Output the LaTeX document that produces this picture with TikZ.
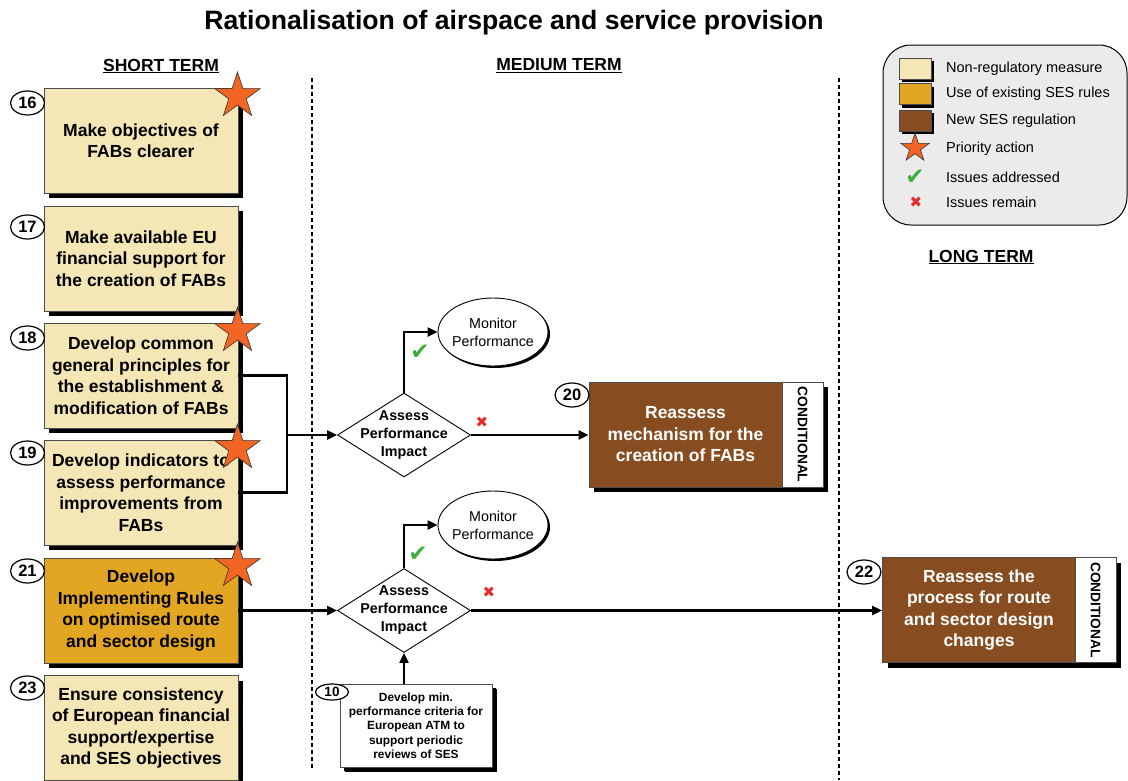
\documentclass[tikz,border=0pt]{standalone}
\usepackage{fontspec}
\setmainfont{Liberation Sans}
\newfontfamily\symfont{DejaVu Sans}
\usetikzlibrary{shapes.geometric,shadows,arrows.meta}

\definecolor{cream}{HTML}{F5E6B5}
\definecolor{sesgold}{HTML}{E3A623}
\definecolor{sesbrown}{HTML}{874D20}
\definecolor{starorange}{HTML}{F26522}
\definecolor{legendbg}{HTML}{EBEBEB}
\definecolor{okgreen}{HTML}{3DAE3A}
\definecolor{nored}{HTML}{E52A2A}

\newcommand{\setfs}[2]{\fontsize{#1}{#2}\selectfont}

\tikzset{
  boxshadow/.style={drop shadow={shadow xshift=5pt,shadow yshift=-5pt,fill=black,opacity=1}},
  actbox/.style={draw=black!70, line width=0.8, minimum width=194, minimum height=105,
    inner sep=0, align=center, font=\setfs{17.5}{21.5}\bfseries, boxshadow},
  nonreg/.style={actbox, fill=cream},
  sesrule/.style={actbox, fill=sesgold},
  newreg/.style={actbox, fill=sesbrown, text=white, minimum width=193},
  condstrip/.style={draw=black!70, line width=0.8, fill=white, minimum width=41,
    minimum height=105, inner sep=0, boxshadow},
  condtext/.style={rotate=-90, font=\setfs{13.8}{13.8}\bfseries},
  numtag/.style={ellipse, draw, line width=1.2, fill=white, minimum width=34,
    minimum height=24, inner sep=0, font=\setfs{16.5}{16.5}\bfseries},
  prio/.style={star, star points=5, star point ratio=2.618, minimum size=48,
    inner sep=0, fill=starorange, draw=black!80, line width=0.6},
  conn/.style={line width=2.2, black},
  arr/.style={conn, -{Triangle[length=10pt,width=9pt]}},
  decision/.style={diamond, draw, line width=0.9, fill=white, minimum width=133,
    minimum height=84, inner sep=0, aspect=1.58},
  decisiontext/.style={align=center, font=\setfs{14.3}{18}\bfseries},
  monitor/.style={ellipse, draw, line width=0.9, fill=white, minimum width=110,
    minimum height=68, inner sep=0,
    drop shadow={shadow xshift=2pt,shadow yshift=-2pt,fill=black,opacity=1}},
  monitortext/.style={align=center, font=\setfs{14.3}{18}},
  termlabel/.style={font=\setfs{17.5}{17.5}\bfseries},
  divider/.style={line width=1.2, dash pattern=on 4pt off 3pt},
  swatch/.style={draw=black!70, line width=0.6, minimum width=32, minimum height=21,
    inner sep=0, drop shadow={shadow xshift=3pt,shadow yshift=-3pt,fill=black,opacity=1}},
  legendtext/.style={anchor=west, inner sep=0, font=\setfs{14.5}{14.5}},
  okmark/.style={text=okgreen, font=\symfont\setfs{23}{23}},
  nomark/.style={text=nored, font=\symfont\setfs{15}{15}},
}

\begin{document}
\begin{tikzpicture}[x=1pt,y=-1pt]
\useasboundingbox (0,0) rectangle (1128,780);

% title and term headings
\node[font=\setfs{26.6}{26.6}\bfseries] (title) at (514,23) {Rationalisation of airspace and service provision};
\node[termlabel] (hshort) at (161,66) {\underline{SHORT TERM}};
\node[termlabel] (hmedium) at (559,66) {\underline{MEDIUM TERM}};
\node[termlabel] (hlong) at (981,257) {\underline{LONG TERM}};

% term dividers
\coordinate (dv1top) at (312,78);
\coordinate (dv1bot) at (312,770);
\coordinate (dv2top) at (839,78);
\coordinate (dv2bot) at (839,780);
\draw[divider] (dv1top) -- (dv1bot);
\draw[divider] (dv2top) -- (dv2bot);

% legend
\draw[fill=legendbg, line width=1] (883,45) [rounded corners=28] rectangle (1127,225);
\node[swatch, fill=cream] (lg1) at (915,68.5) {};
\node[swatch, fill=sesgold] (lg2) at (915,94) {};
\node[swatch, fill=sesbrown] (lg3) at (915,120.5) {};
\node[prio, minimum size=30] (lg4) at (915,148) {};
\node[okmark] (lg5) at (915,177) {✔};
\node[nomark] (lg6) at (916,202) {✖};
\node[legendtext] (lt1) at (946,69) {Non-regulatory measure};
\node[legendtext] (lt2) at (946,94) {Use of existing SES rules};
\node[legendtext] (lt3) at (946,121) {New SES regulation};
\node[legendtext] (lt4) at (946,149) {Priority action};
\node[legendtext] (lt5) at (946,177) {Issues addressed};
\node[legendtext] (lt6) at (946,202) {Issues remain};

% short term actions
\node[nonreg] (b16) at (141,140.5) {Make objectives of\\FABs clearer};
\node[nonreg] (b17) at (141,258.5) {Make available EU\\financial support for\\the creation of FABs};
\node[nonreg] (b18) at (141,375.5) {Develop common\\general principles for\\the establishment \&\\modification of FABs};
\node[nonreg] (b19) at (141,492.5) {Develop indicators to\\assess performance\\improvements from\\FABs};
\node[sesrule] (b21) at (141,610.5) {Develop\\Implementing Rules\\on optimised route\\and sector design};
\node[nonreg] (b23) at (141,728) {Ensure consistency\\of European financial\\support/expertise\\and SES objectives};

% medium term: assessment of 18/19
\node[decision] (d1) at (404,435) {};
\node[decisiontext] (d1t) at (d1) {Assess\\Performance\\Impact};
\node[monitor] (m1) at (493,332) {};
\node[monitortext] (m1t) at (m1) {Monitor\\Performance};
\node[okmark] (ok1) at (420,352) {✔};
\node[nomark] (no1) at (482,422) {✖};

\node[newreg] (b20) at (685.5,434.5) {Reassess\\mechanism for the\\creation of FABs};
\node[condstrip] (c20) at (802.5,434.5) {};
\node[condtext] (c20t) at (c20) {CONDITIONAL};

% medium term: assessment of 21
\node[decision] (d2) at (404,610.5) {};
\node[decisiontext] (d2t) at (d2) {Assess\\Performance\\Impact};
\node[monitor] (m2) at (493,525) {};
\node[monitortext] (m2t) at (m2) {Monitor\\Performance};
\node[okmark] (ok2) at (418,554) {✔};
\node[nomark] (no2) at (489,592) {✖};

\node[actbox, fill=white, minimum width=152, minimum height=83,
  font=\setfs{11.9}{14.3}\bfseries,
  drop shadow={shadow xshift=4pt,shadow yshift=-4pt,fill=black,opacity=1}]
  (b10) at (416,725.5) {Develop min.\\performance criteria for\\European ATM to\\support periodic\\reviews of SES};

% long term
\node[newreg] (b22) at (979,610) {Reassess the\\process for route\\and sector design\\changes};
\node[condstrip] (c22) at (1095.5,610) {};
\node[condtext] (c22t) at (c22) {CONDITIONAL};

% connectors
\coordinate (j1) at (287,435);
\draw[conn] (b18.east) -| (j1) |- (b19.east);
\draw[arr] (j1) -- (d1.west);
\draw[arr] (d1.north) |- (m1.west);
\draw[arr] (d1.east) -- (d1.east -| b20.west);

\draw[arr] (b21.east) -- (d2.west);
\draw[arr] (d2.north) |- (m2.west);
\draw[arr] (d2.east) -- (d2.east -| b22.west);
\draw[arr] (b10.north -| d2.south) -- (d2.south);

% action numbers
\node[numtag] (n16) at (27.5,103) {16};
\node[numtag] (n17) at (27.5,227) {17};
\node[numtag] (n18) at (27.5,338) {18};
\node[numtag] (n19) at (27.5,453) {19};
\node[numtag] (n21) at (27.5,571) {21};
\node[numtag] (n23) at (27.5,688) {23};
\node[numtag] (n20) at (572,395) {20};
\node[numtag] (n22) at (864,572) {22};
\node[numtag, minimum width=33, minimum height=16, font=\setfs{13.5}{13.5}\bfseries] (n10) at (332,692) {10};

% priority stars
\node[prio] (s16) at (237.5,96) {};
\node[prio] (s18) at (237.5,331) {};
\node[prio] (s19) at (237.5,448) {};
\node[prio] (s21) at (237.5,566) {};
\end{tikzpicture}
\end{document}
